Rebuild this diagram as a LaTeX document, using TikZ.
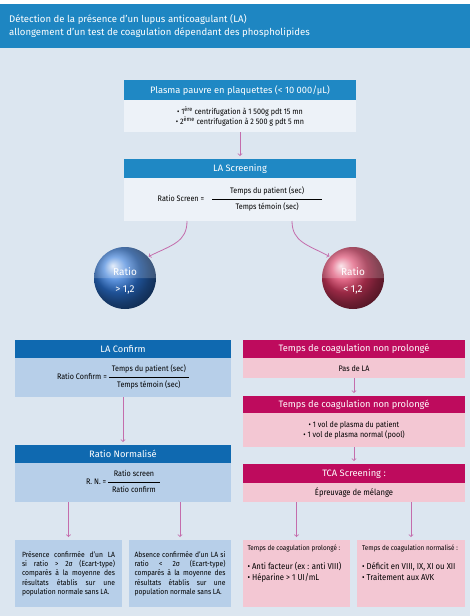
\documentclass[tikz,border=0pt]{standalone}
\usepackage{fontspec}
\setmainfont{Fira Sans}
\newfontfamily\condfont[FakeStretch=0.9]{Fira Sans}
\usetikzlibrary{shapes, arrows}

\definecolor{topblue}{HTML}{1E86C2}
\definecolor{hdrblue}{HTML}{1F88C4}
\definecolor{dkblue}{HTML}{0F69B0}
\definecolor{paleblue}{HTML}{EDF2F8}
\definecolor{midblue}{HTML}{B7CFE9}
\definecolor{bgblue}{HTML}{DCE6F0}
\definecolor{hdrpink}{HTML}{BE0B5D}
\definecolor{palepink}{HTML}{F3C7D3}
\definecolor{arrowpink}{HTML}{C46DAC}
\definecolor{ballblue}{HTML}{2C74D6}
\definecolor{ballred}{HTML}{DA3A62}

\newcommand{\hdrfont}{\fontsize{9.3}{11}\selectfont}
\newcommand{\txtfont}{\condfont\fontsize{8}{10}\selectfont}
\newcommand{\ratiofrac}[2]{\begin{tabular}{@{\hspace{#2}}c@{\hspace{#2}}}#1\end{tabular}}
\newcommand{\parafont}{\condfont\fontsize{7.5}{9.2}\selectfont\hyphenpenalty=10000\parfillskip=0pt plus 1fil}

\tikzstyle{head} = [rectangle, anchor=north, inner sep=0pt, text=white, font=\hdrfont, minimum height=19pt]
\tikzstyle{body} = [rectangle, anchor=north, inner sep=0pt, align=center, font=\txtfont]
\tikzstyle{result} = [rectangle, anchor=north, inner sep=0pt, minimum height=67pt]
\tikzstyle{ratio} = [circle, minimum size=62pt, inner sep=0pt, text=white, font=\fontsize{10}{12}\selectfont, align=center]
\tikzstyle{link} = [->, arrowpink, line width=0.8pt, shorten >=3pt]

\begin{document}
\begin{tikzpicture}[x=1pt,y=-1pt,=>latex']
\useasboundingbox (0,0) rectangle (470,616);
\fill[bgblue] (0,48) rectangle (470,616);
\fill[topblue] (0,4) rectangle (470,48);
\node [anchor=north west, text=white, align=left, inner sep=0pt, font=\fontsize{9.6}{13}\selectfont] (title) at (9,14)
  {Détection de la présence d’un lupus anticoagulant (LA)\\allongement d’un test de coagulation dépendant des phospholipides};

% colonne centrale
\node [head, fill=hdrblue, minimum width=232pt, minimum height=20pt] (plasmahead) at (240,80) {Plasma pauvre en plaquettes (< 10 000/µL)};
\node [body, fill=paleblue, minimum width=232pt, minimum height=32pt] (plasmabody) at (240,100)
  {• 1\textsuperscript{ère} centrifugation à 1 500g pdt 15 mn\\• 2\textsuperscript{ème} centrifugation à 2 500 g pdt 5 mn};
\node [head, fill=hdrblue, minimum width=232pt] (screenhead) at (240,159) {LA Screening};
\node [body, fill=paleblue, minimum width=232pt, minimum height=43pt] (screenbody) at (240,178)
  {Ratio Screen = \hspace{6pt}\ratiofrac{Temps du patient (sec)\\[2pt]\hline\rule{0pt}{11pt}Temps témoin (sec)}{18pt}};

\shade [ball color=ballblue] (125,278) circle (31pt);
\fill [white, opacity=0.18] (94,278) arc[start angle=180, end angle=0, radius=31pt] -- cycle;
\node [ratio] (ratiohigh) at (125,281) {Ratio\\[5pt]> 1,2};
\shade [ball color=ballred] (353,278) circle (31pt);
\fill [white, opacity=0.18] (322,278) arc[start angle=180, end angle=0, radius=31pt] -- cycle;
\node [ratio] (ratiolow) at (353,281) {Ratio\\[5pt]< 1,2};

% colonne gauche
\node [head, fill=dkblue, minimum width=216pt, minimum height=18pt] (confirmhead) at (123,340) {LA Confirm};
\node [body, fill=midblue, minimum width=216pt, minimum height=39pt] (confirmbody) at (123,358)
  {Ratio Confirm = \ratiofrac{Temps du patient (sec)\\[2pt]\hline\rule{0pt}{11pt}Temps témoin (sec)}{3pt}};
\node [head, fill=dkblue, minimum width=216pt, minimum height=18pt] (normhead) at (123,445) {Ratio Normalisé};
\node [body, fill=midblue, minimum width=216pt, minimum height=39pt] (normbody) at (123,463)
  {R. N. = \ratiofrac{Ratio screen\\[2pt]\hline\rule{0pt}{11pt}Ratio confirm}{4pt}};
\node [result, fill=midblue, minimum width=107pt] (presence) at (68.5,540)
  {\parbox{93pt}{\parafont Présence confirmée d’un LA\linebreak si ratio > 2σ (Ecart-type)\linebreak comparés à la moyenne des\linebreak résultats établis sur une\linebreak population normale sans LA.}};
\node [result, fill=midblue, minimum width=102pt] (absence) at (180,540)
  {\parbox{91pt}{\parafont Absence confirmée d’un LA si\linebreak ratio < 2σ (Ecart-type)\linebreak comparés à la moyenne des\linebreak résultats établis sur une\linebreak population normale sans LA.}};

% colonne droite
\node [head, fill=hdrpink, minimum width=222pt, minimum height=18pt] (nonprolhead) at (354,340) {Temps de coagulation non prolongé};
\node [body, fill=palepink, minimum width=222pt, minimum height=20pt] (nonprolbody) at (354,358) {Pas de LA};
\node [head, fill=hdrpink, minimum width=222pt, minimum height=17pt] (mixhead) at (354,396) {Temps de coagulation non prolongé};
\node [body, fill=palepink, minimum width=222pt, minimum height=34pt] (mixbody) at (354,413)
  {• 1 vol de plasma du patient\\• 1 vol de plasma normal (pool)};
\node [head, fill=hdrpink, minimum width=222pt] (tcahead) at (354,464) {TCA Screening :};
\node [body, fill=palepink, minimum width=222pt, minimum height=19pt, font=\condfont\fontsize{8.5}{10}\selectfont] (tcabody) at (354,483) {Épreuvage de mélange};
\node [result, fill=palepink, minimum width=107pt] (prolonge) at (296.5,540)
  {\parbox[t][58pt][t]{98pt}{\condfont\fontsize{7}{9}\selectfont Temps de coagulation prolongé :\\[8pt]\fontsize{8.6}{11}\selectfont • Anti facteur (ex : anti VIII)\\• Héparine > 1 UI/mL}};
\node [result, fill=palepink, minimum width=108pt] (normalise) at (411,540)
  {\parbox[t][58pt][t]{98pt}{\condfont\fontsize{7}{9}\selectfont Temps de coagulation normalisé :\\[8pt]\fontsize{8.6}{11}\selectfont • Déficit en VIII, IX, XI ou XII\\• Traitement aux AVK}};

% liaisons
\draw [link] (plasmabody) -- (screenhead);
\draw [link] (187,221) .. controls (187,242) and (172,245) .. (ratiohigh.48);
\draw [link] (292,221) .. controls (292,242) and (308,245) .. (ratiolow.132);
\draw [link] (confirmbody) -- (normhead);
\draw [link] (normbody.south -| presence.north) -- (presence);
\draw [link] (normbody.south -| absence.north) -- (absence);
\draw [link] (nonprolbody) -- (mixhead);
\draw [link] (mixbody) -- (tcahead);
\draw [link] (tcabody.south -| prolonge.north) -- (prolonge);
\draw [link] (tcabody.south -| normalise.north) -- (normalise);
\end{tikzpicture}
\end{document}
